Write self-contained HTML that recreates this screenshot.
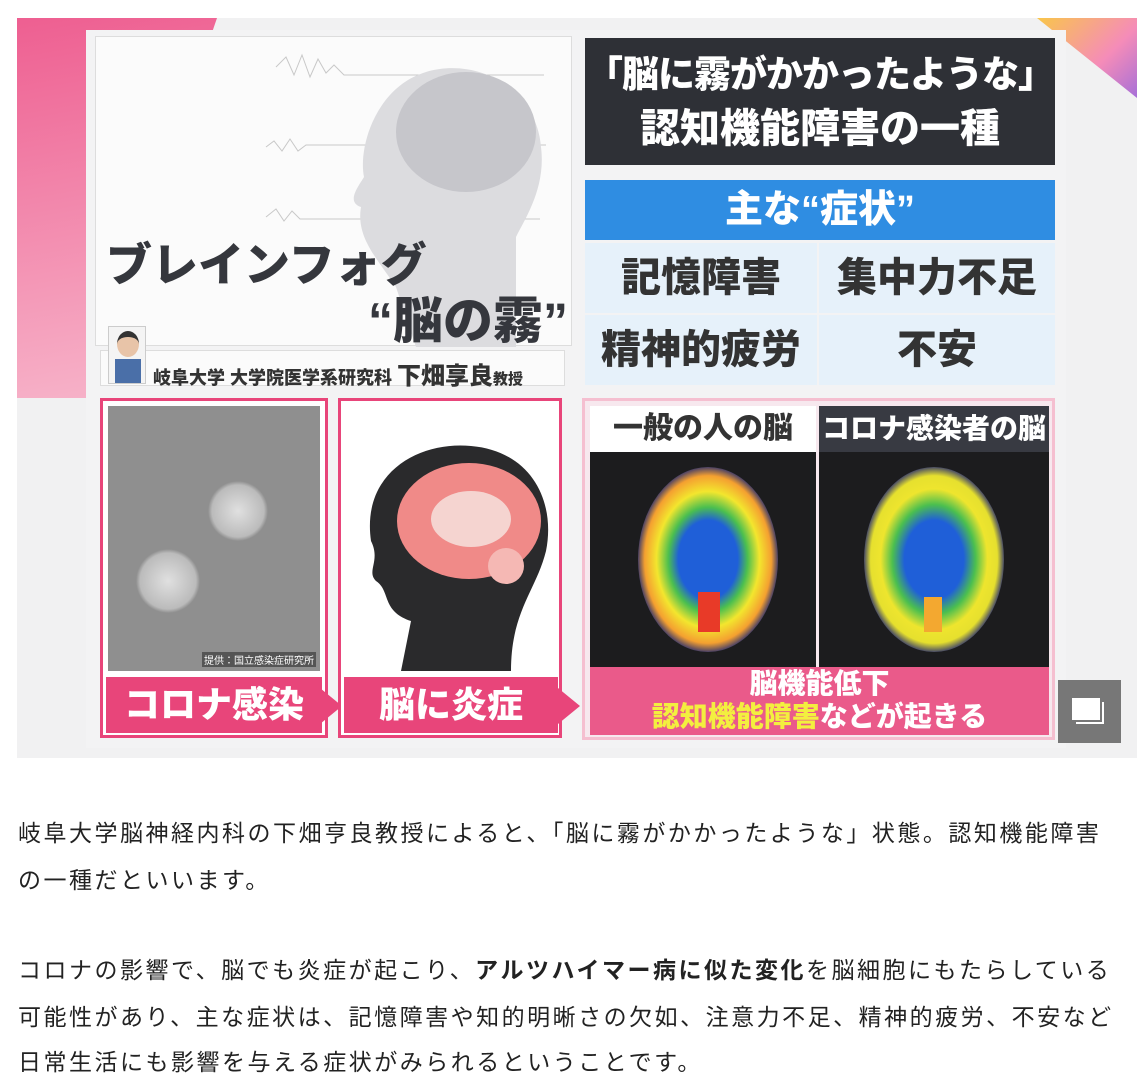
<!DOCTYPE html>
<html><head><meta charset="utf-8"><style>
*{margin:0;padding:0;box-sizing:border-box}
body{width:1141px;height:1086px;background:#fff;position:relative;overflow:hidden;font-family:"Liberation Sans","Noto Sans CJK JP",sans-serif}
.a{position:absolute}
.b{font-weight:900}
.txt{position:absolute;left:18px;font-size:23px;color:#222;letter-spacing:2.5px;white-space:nowrap;line-height:47px}
.scan{background:#1c1c1e}
.brain{position:absolute;border-radius:50%}
</style></head><body>
<div class="a" style="left:17px;top:18px;width:1120px;height:740px;background:#f1f1f2;overflow:hidden">
 <div class="a" style="left:0;top:0;width:200px;height:380px;background:linear-gradient(170deg,#ee5f91,#f7b6cb);clip-path:polygon(0 0,100% 0,35% 100%,0 100%)"></div>
 <div class="a" style="left:1020px;top:0;width:100px;height:80px;background:linear-gradient(135deg,#f9c64a,#f58cb8 60%,#a66fd8);clip-path:polygon(0 0,100% 0,100% 100%)"></div>
</div>
<div class="a" style="left:86px;top:30px;width:980px;height:718px;background:#f3f3f4"></div>

<div class="a" style="left:95px;top:36px;width:477px;height:310px;background:#fbfbfb;border:1px solid #ddd">
 <svg class="a" style="left:0;top:0" width="477" height="310">
  <g stroke="#c8c8c8" fill="none" stroke-width="1"><path d="M180 30 l10 -10 l8 18 l8 -20 l8 22 l8 -18 l8 14 l8 -8 l10 10 l200 0"/><path d="M170 110 l8 -6 l8 10 l8 -12 l8 12 l8 -6 l240 0"/><path d="M170 180 l10 -8 l8 12 l8 -10 l8 8 l240 0"/></g>
  <path d="M300 250 C280 220 260 200 265 170 C250 165 262 150 268 140 C262 110 280 50 330 35 C380 20 440 50 445 110 C450 150 430 180 420 200 L420 310 L320 310 Z" fill="#dcdcdf"/>
  <ellipse cx="370" cy="95" rx="70" ry="60" fill="#c6c6cb"/>
 </svg>
 <div class="a b" style="left:10px;top:192px;font-size:46px;color:#35373d;white-space:nowrap">ブレインフォグ</div>
 <div class="a b" style="left:272px;top:244px;font-size:50px;color:#35373d;white-space:nowrap">“脳の霧”</div>
</div>
<div class="a" style="left:100px;top:350px;width:465px;height:36px;background:#fbfbfb;border:1px solid #ddd">
 <div class="a b" style="left:52px;top:5px;font-size:18px;color:#333;white-space:nowrap">岐阜大学 大学院医学系研究科 <span style="font-size:24px">下畑享良</span><span style="font-size:15px">教授</span></div>
</div>
<div class="a" style="left:108px;top:326px;width:38px;height:58px;background:#f4f4f4;border:1px solid #ccc">
 <div class="a" style="left:8px;top:4px;width:22px;height:26px;border-radius:50%;background:#e8c4a8;border-top:6px solid #333"></div>
 <div class="a" style="left:6px;top:32px;width:26px;height:24px;background:#4a6fa8"></div>
</div>

<div class="a" style="left:585px;top:38px;width:470px;height:127px;background:#2e3036;color:#fff;text-align:center">
 <div class="b" style="font-size:37px;line-height:54px;margin-top:10px;white-space:nowrap;letter-spacing:-1px">「脳に霧がかかったような」</div>
 <div class="b" style="font-size:40px;line-height:54px;white-space:nowrap">認知機能障害の一種</div>
</div>
<div class="a b" style="left:585px;top:180px;width:470px;height:60px;background:#2f8de2;color:#fff;text-align:center;font-size:38px;line-height:60px">主な“症状”</div>
<div class="a b" style="left:585px;top:243px;width:232px;height:70px;background:#e6f1fa;color:#333;text-align:center;font-size:40px;line-height:70px">記憶障害</div>
<div class="a b" style="left:819px;top:243px;width:236px;height:70px;background:#e6f1fa;color:#333;text-align:center;font-size:40px;line-height:70px">集中力不足</div>
<div class="a b" style="left:585px;top:315px;width:232px;height:70px;background:#e6f1fa;color:#333;text-align:center;font-size:40px;line-height:70px">精神的疲労</div>
<div class="a b" style="left:819px;top:315px;width:236px;height:70px;background:#e6f1fa;color:#333;text-align:center;font-size:40px;line-height:70px">不安</div>

<div class="a" style="left:100px;top:398px;width:228px;height:340px;border:3px solid #e8457a;background:#fff">
 <div class="a" style="left:5px;top:5px;width:212px;height:265px;background:radial-gradient(circle at 60px 175px,#e0e0e0 0,#bbb 28px,transparent 32px),radial-gradient(circle at 130px 105px,#e0e0e0 0,#bbb 26px,transparent 30px),#8f8f8f"><div class="a" style="right:4px;bottom:4px;font-size:10px;color:#fff;background:#555;padding:0 2px">提供：国立感染症研究所</div></div>
 <div class="a b" style="left:3px;top:276px;width:216px;height:56px;background:#e8457a;color:#fff;font-size:36px;line-height:56px;text-align:center">コロナ感染</div>
</div>
<div class="a" style="left:320px;top:688px;width:0;height:0;border-top:18px solid transparent;border-bottom:18px solid transparent;border-left:22px solid #e8457a"></div>
<div class="a" style="left:338px;top:398px;width:224px;height:340px;border:3px solid #e8457a;background:#fff">
 <svg class="a" style="left:10px;top:40px" width="200" height="230"><path d="M50 230 L60 180 C30 170 40 150 25 140 C15 130 30 120 20 100 C10 30 70 0 120 5 C180 10 205 60 195 110 C185 150 160 170 160 230 Z" fill="#2a2a2c"/><ellipse cx="118" cy="80" rx="72" ry="58" fill="#f08a88"/><ellipse cx="120" cy="78" rx="40" ry="28" fill="#f5d4d0"/><circle cx="155" cy="125" r="18" fill="#f5b8b4"/></svg>
 <div class="a b" style="left:3px;top:276px;width:214px;height:56px;background:#e8457a;color:#fff;font-size:36px;line-height:56px;text-align:center">脳に炎症</div>
</div>
<div class="a" style="left:558px;top:688px;width:0;height:0;border-top:18px solid transparent;border-bottom:18px solid transparent;border-left:22px solid #e8457a"></div>

<div class="a" style="left:582px;top:398px;width:473px;height:342px;border:3px solid #f5bfd0;background:#f7e8ee">
 <div class="a b" style="left:5px;top:5px;width:226px;height:46px;background:#fff;color:#333;font-size:30px;line-height:46px;text-align:center">一般の人の脳</div>
 <div class="a b" style="left:234px;top:5px;width:230px;height:46px;background:#383a42;color:#fff;font-size:28px;line-height:46px;text-align:center">コロナ感染者の脳</div>
 <div class="a scan" style="left:5px;top:51px;width:226px;height:215px">
  <div class="brain" style="left:48px;top:15px;width:140px;height:185px;background:radial-gradient(ellipse,#1f5fd8 0,#1f5fd8 30%,#4bbf4f 40%,#f3e62e 52%,#f4a030 64%,#2a2f70 72%,#1c1c1e 78%)"></div>
  <div class="a" style="left:108px;top:140px;width:22px;height:40px;background:#e83a28"></div>
 </div>
 <div class="a scan" style="left:234px;top:51px;width:230px;height:215px">
  <div class="brain" style="left:45px;top:15px;width:140px;height:185px;background:radial-gradient(ellipse,#1f5fd8 0,#1f5fd8 30%,#4bbf4f 42%,#eee52e 54%,#e6e02e 64%,#2a2f70 72%,#1c1c1e 78%)"></div>
  <div class="a" style="left:105px;top:145px;width:18px;height:35px;background:#f3a830"></div>
 </div>
 <div class="a b" style="left:5px;top:266px;width:459px;height:68px;background:#ea5a8a;color:#fff;text-align:center;font-size:28px;line-height:33px">脳機能低下<br><span style="color:#f3ef3f">認知機能障害</span>などが起きる</div>
</div>
<div class="a" style="left:1058px;top:680px;width:63px;height:63px;background:#777">
 <div class="a" style="left:14px;top:18px;width:28px;height:22px;background:#fff"></div>
 <div class="a" style="left:18px;top:22px;width:28px;height:22px;border-right:2px solid #fff;border-bottom:2px solid #fff"></div>
</div>

<div class="txt" style="top:810px">岐阜大学脳神経内科の下畑亨良教授によると、「脳に霧がかかったような」状態。認知機能障害</div>
<div class="txt" style="top:857px">の一種だといいます。</div>
<div class="txt" style="top:947px">コロナの影響で、脳でも炎症が起こり、<b>アルツハイマー病に似た変化</b>を脳細胞にもたらしている</div>
<div class="txt" style="top:994px">可能性があり、主な症状は、記憶障害や知的明晰さの欠如、注意力不足、精神的疲労、不安など</div>
<div class="txt" style="top:1039px">日常生活にも影響を与える症状がみられるということです。</div>
</body></html>
